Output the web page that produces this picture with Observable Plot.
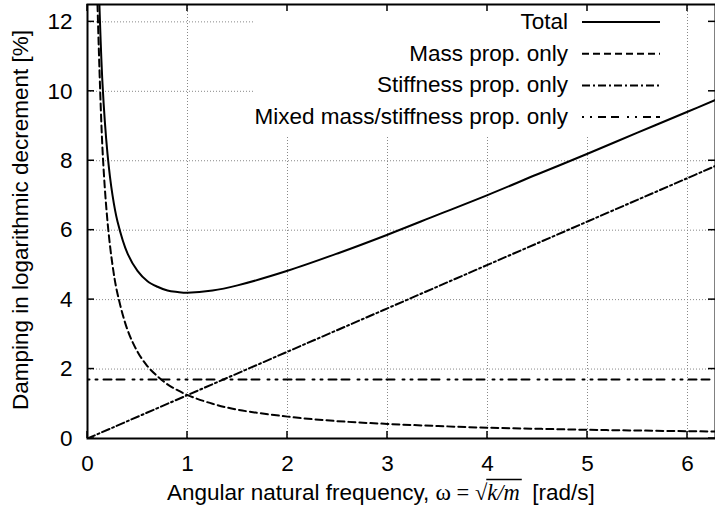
<!DOCTYPE html>
<html><head><meta charset="utf-8">
<script src="https://cdn.jsdelivr.net/npm/d3@7"></script>
<script src="https://cdn.jsdelivr.net/npm/@observablehq/plot@0.6"></script>
<style>body{margin:0;background:#fff}</style>
</head><body><div id="chart"></div>
<script>
// ---- data ----
const omega     = [0.10, 0.15, 0.20, 0.25, 0.30, 0.40, 0.50, 0.60, 0.70, 0.80, 0.90, 1.00, 1.25, 1.50, 2.00, 2.50, 3.00, 3.50, 4.00, 4.50, 5.00, 5.50, 6.00, 6.28];
const massOnly  = [12.5, 8.33, 6.25, 5.00, 4.17, 3.13, 2.50, 2.08, 1.79, 1.56, 1.39, 1.25, 1.00, 0.83, 0.63, 0.50, 0.42, 0.36, 0.31, 0.28, 0.25, 0.23, 0.21, 0.20];
const totalDamp = [14.33, 10.22, 8.20, 7.01, 6.25, 5.33, 4.83, 4.53, 4.37, 4.26, 4.22, 4.20, 4.26, 4.41, 4.83, 5.33, 5.87, 6.44, 7.01, 7.61, 8.20, 8.81, 9.41, 9.75];
const stiffOmega = [0, 1, 2, 3, 4, 5, 6, 6.28];
const stiffOnly  = [0, 1.25, 2.50, 3.75, 5.00, 6.25, 7.50, 7.85];
const mixedOmega = [0, 6.28];
const mixedOnly  = [1.70, 1.70];

const seriesNames = ["Total", "Mass prop. only", "Stiffness prop. only", "Mixed mass/stiffness prop. only"];
const xTicks = [0, 1, 2, 3, 4, 5, 6];
const yTicks = [0, 2, 4, 6, 8, 10, 12];
const xDomain = [0, 6.28];
const yDomain = [0, 12.5];
// grid lines hidden behind the legend box (in data units)
const gridXFull = [1, 6], gridXPartial = [2, 3, 4, 5], legendBottom = 8.7;
const gridYFull = [2, 4, 6, 8], gridYPartial = [10, 12], legendLeft = 1.68;

// ---- styles ----
const sans = "Liberation Sans, Arial, Helvetica, sans-serif";
const serif = "Liberation Serif, Times New Roman, serif";
const FS = 22.5;
const dashes = [null, "7,4", "8,3,2,3", "2,6,2,6,8,5,8,8"];

const toRows = (xs, ys) => xs.map((x, i) => ({x, y: ys[i]}));
const seriesData = [toRows(omega, totalDamp), toRows(omega, massOnly), toRows(stiffOmega, stiffOnly), toRows(mixedOmega, mixedOnly)];

const grid = {stroke: "#888", strokeWidth: 1, strokeDasharray: "1,2"};

const svg = Plot.plot({
  width: 715, height: 510,
  marginLeft: 87, marginRight: 0, marginTop: 4, marginBottom: 72,
  style: {fontFamily: sans, fontSize: FS + "px", color: "#000", background: "#fff", overflow: "visible"},
  x: {domain: xDomain, label: null},
  y: {domain: yDomain, label: null},
  marks: [
    Plot.ruleX(gridXFull, {y1: yDomain[0], y2: yDomain[1], ...grid}),
    Plot.ruleX(gridXPartial, {y1: yDomain[0], y2: legendBottom, ...grid}),
    Plot.ruleY(gridYFull, {x1: xDomain[0], x2: xDomain[1], ...grid}),
    Plot.ruleY(gridYPartial, {x1: xDomain[0], x2: legendLeft, ...grid}),
    ...seriesData.map((d, i) => Plot.line(d, {x: "x", y: "y", curve: "catmull-rom", stroke: "#000", strokeWidth: 2, strokeDasharray: dashes[i], clip: true})),
    Plot.axisX(xTicks, {anchor: "bottom", tickSize: 0, tickPadding: 17, fontSize: FS, label: null}),
    Plot.axisY(yTicks, {anchor: "left", tickSize: 0, tickPadding: 15, fontSize: FS, label: null}),
    Plot.frame({stroke: "#000", strokeWidth: 2})
  ]
});
document.getElementById("chart").appendChild(svg);

const s = d3.select(svg);
const sx = svg.scale("x"), sy = svg.scale("y");
const [fx0, fx1] = sx.range, [fy0, fy1] = sy.range; // fy0 bottom, fy1 top
const TL = 7;

// ---- inward ticks on all four sides ----
const tk = s.append("g").attr("stroke", "#000").attr("stroke-width", 1.5);
xTicks.forEach(v => {
  const px = sx.apply(v);
  tk.append("line").attr("x1", px).attr("x2", px).attr("y1", fy0).attr("y2", fy0 - TL);
  tk.append("line").attr("x1", px).attr("x2", px).attr("y1", fy1).attr("y2", fy1 + TL);
});
yTicks.forEach(v => {
  const py = sy.apply(v);
  tk.append("line").attr("x1", fx0).attr("x2", fx0 + TL).attr("y1", py).attr("y2", py);
  tk.append("line").attr("x1", fx1).attr("x2", fx1 - TL).attr("y1", py).attr("y2", py);
});

// ---- legend (inside plot, top right) ----
const lg = s.append("g").attr("font-family", sans).attr("font-size", FS);
seriesNames.forEach((name, i) => {
  const yb = 29 + i * 31.7;
  lg.append("text").attr("x", 568).attr("y", yb).attr("text-anchor", "end").attr("fill", "#000").text(name);
  lg.append("line").attr("x1", 582).attr("x2", 660).attr("y1", yb - 7).attr("y2", yb - 7)
    .attr("stroke", "#000").attr("stroke-width", 2).attr("stroke-dasharray", dashes[i]);
});

// ---- y axis title ----
s.append("text").attr("transform", "translate(28,220) rotate(-90)")
  .attr("text-anchor", "middle").attr("font-family", sans).attr("font-size", FS).attr("fill", "#000")
  .text("Damping in logarithmic decrement [%]");

// ---- x axis title with math ----
const parts = [
  {t: "Angular natural frequency, ", f: sans},
  {t: "ω", f: serif, size: FS + 1},
  {t: " = ", f: serif},
  {t: "√", f: serif},
  {t: "k/m", f: serif, italic: true, over: true},
  {t: "  [rad/s]", f: sans}
];
let cx = 167;
const base = 500;
parts.forEach(p => {
  const t = s.append("text").attr("x", cx).attr("y", base).attr("text-anchor", "start")
    .attr("font-family", p.f).attr("font-size", p.size || FS)
    .attr("font-style", p.italic ? "italic" : null)
    .attr("fill", "#000").style("white-space", "pre").text(p.t);
  const w = t.node().getComputedTextLength();
  if (p.over) {
    s.append("line").attr("x1", cx - 1).attr("x2", cx + w + 2)
      .attr("y1", base - 20.5).attr("y2", base - 20.5).attr("stroke", "#000").attr("stroke-width", 1.3);
  }
  cx += w;
});
</script></body></html>
